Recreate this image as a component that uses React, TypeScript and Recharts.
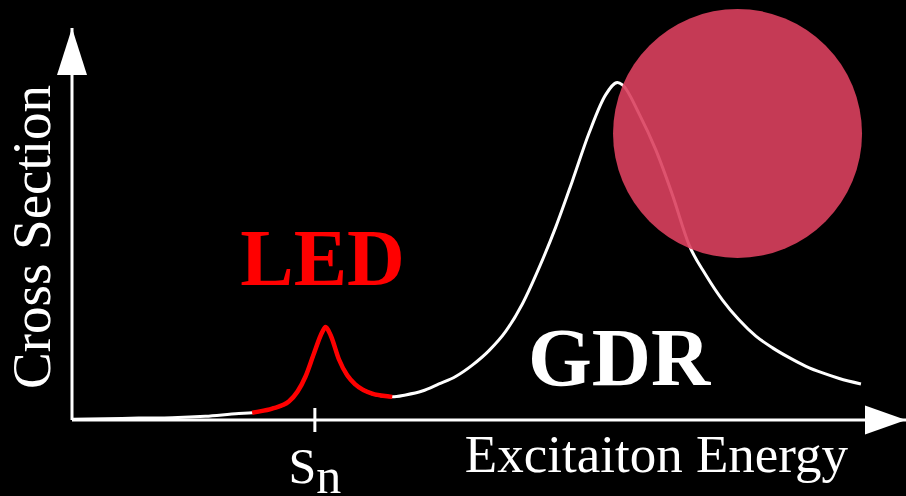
import { LineChart, Line, XAxis, YAxis, ReferenceDot, Label } from "recharts";

// excitation energy (MeV) and cross section (arb. units)
const energy = [
  0, 1, 2, 3, 4, 5, 5.4, 5.5, 6, 6.5, 7, 7.25, 7.5, 7.6, 7.75, 8, 8.25, 8.5, 9, 9.5, 9.6, 10, 10.5, 11,
  11.5, 12, 12.5, 13, 13.5, 14, 14.5, 15, 15.5, 16, 16.35, 16.5, 17, 17.5, 18, 18.5, 19, 19.5, 20, 20.5,
  21, 21.5, 22, 22.5, 23, 23.65,
];
const crossSection = [
  0.2, 0.3, 0.5, 0.6, 0.95, 1.66, 1.84, 2.0, 2.9, 4.7, 11.1, 16.9, 22.4, 23.7, 21.7, 15.5, 11.4, 9.0, 6.7,
  6.0, 5.9, 6.4, 7.4, 9.2, 11.1, 14.0, 17.7, 22.6, 29.6, 38.8, 49.2, 61.0, 73.2, 83.0, 86.1, 85.5, 78.1,
  68.9, 57.4, 44.6, 37.0, 30.6, 25.5, 21.4, 18.4, 15.9, 13.7, 12.0, 10.6, 9.2,
];

// low-energy dipole region, drawn in red
const ledRange = [5.4, 9.6];
const separationEnergy = 7.28;
const energyMax = 25;
const sigmaMax = 100;

const rows = energy.map((e, i) => ({
  e,
  sigma: crossSection[i],
  led: e >= ledRange[0] && e <= ledRange[1] ? crossSection[i] : null,
}));

const serif = { fontFamily: "'Liberation Serif', 'Times New Roman', serif" };

function SnTick(props: any) {
  const { x, y, payload } = props;
  if (payload.value !== separationEnergy) return null;
  return (
    <g>
      <line x1={x} x2={x} y1={y - 12} y2={y + 12} stroke="#fff" strokeWidth={3} />
      <text x={x} y={y + 63} fill="#fff" style={{ ...serif, fontSize: 50 }} textAnchor="middle">
        S
        <tspan dy={10}>n</tspan>
      </text>
    </g>
  );
}

export default function App() {
  return (
    <div style={{ position: "fixed", top: 0, left: 0, width: 906, height: 496, background: "#000" }}>
      <LineChart width={906} height={496} data={rows} margin={{ top: 28, right: 0, left: 0, bottom: 0 }}>
        <XAxis
          dataKey="e"
          type="number"
          domain={[0, energyMax]}
          ticks={[separationEnergy]}
          tick={<SnTick />}
          tickSize={0}
          tickMargin={0}
          tickLine={false}
          height={76}
          axisLine={{ stroke: "#fff", strokeWidth: 3 }}
        >
          <Label
            content={({ viewBox }: any) => (
              <text
                x={viewBox.x + viewBox.width - 58}
                y={viewBox.y + 52}
                fill="#fff"
                style={{ ...serif, fontSize: 53 }}
                textAnchor="end"
              >
                Excitaiton Energy
              </text>
            )}
          />
        </XAxis>
        <YAxis
          type="number"
          domain={[0, sigmaMax]}
          width={72}
          tick={false}
          tickLine={false}
          axisLine={{ stroke: "#fff", strokeWidth: 3 }}
        >
          <Label
            content={({ viewBox }: any) => (
              <text
                x={50}
                y={viewBox.y + 209}
                transform={`rotate(-90, 50, ${viewBox.y + 209})`}
                fill="#fff"
                style={{ ...serif, fontSize: 55 }}
                textAnchor="middle"
              >
                Cross Section
              </text>
            )}
          />
        </YAxis>
        <Line
          dataKey="sigma"
          type="monotone"
          stroke="#fff"
          strokeWidth={3}
          dot={false}
          isAnimationActive={false}
        />
        <Line
          dataKey="led"
          type="monotone"
          stroke="#ff0000"
          strokeWidth={4.5}
          dot={false}
          isAnimationActive={false}
        />
        {/* axis arrowheads */}
        <ReferenceDot
          x={0}
          y={sigmaMax}
          ifOverflow="visible"
          shape={({ cx, cy }: any) => (
            <polygon points={`${cx},${cy} ${cx - 15},${cy + 47} ${cx + 15},${cy + 47}`} fill="#fff" />
          )}
        />
        <ReferenceDot
          x={energyMax}
          y={0}
          ifOverflow="visible"
          shape={({ cx, cy }: any) => (
            <polygon points={`${cx},${cy} ${cx - 41},${cy - 14.5} ${cx - 41},${cy + 14.5}`} fill="#fff" />
          )}
        />
        {/* peak labels */}
        <ReferenceDot
          x={7.51}
          y={34.4}
          ifOverflow="visible"
          shape={({ cx, cy }: any) => (
            <text x={cx} y={cy} fill="#ff0000" style={{ ...serif, fontSize: 80, fontWeight: "bold" }} textAnchor="middle">
              LED
            </text>
          )}
        />
        <ReferenceDot
          x={16.4}
          y={8.9}
          ifOverflow="visible"
          shape={({ cx, cy }: any) => (
            <text x={cx} y={cy} fill="#fff" style={{ ...serif, fontSize: 82, fontWeight: "bold" }} textAnchor="middle">
              GDR
            </text>
          )}
        />
        <ReferenceDot
          x={19.95}
          y={73.1}
          r={124.5}
          fill="#da405e"
          fillOpacity={0.9}
          stroke="none"
          ifOverflow="visible"
        />
      </LineChart>
    </div>
  );
}
